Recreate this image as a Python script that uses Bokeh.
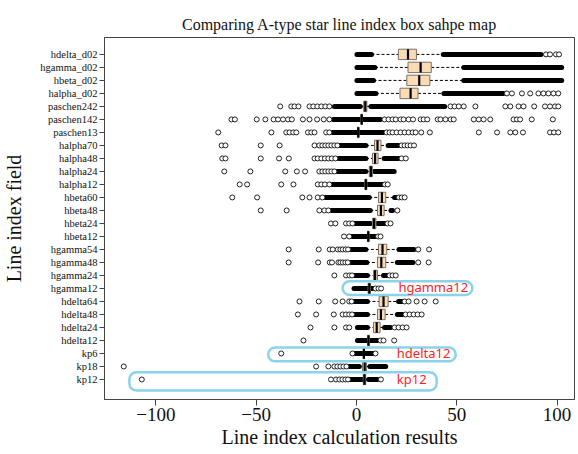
from bokeh.plotting import figure
from bokeh.models import ColumnDataSource, FixedTicker, Range1d
from bokeh.core.properties import value
from bokeh.embed import file_html
from bokeh.resources import INLINE

# ---------------- data (top row first) ----------------
labels = ["hdelta_d02", "hgamma_d02", "hbeta_d02", "halpha_d02", "paschen242", "paschen142",
          "paschen13", "halpha70", "halpha48", "halpha24", "halpha12", "hbeta60", "hbeta48",
          "hbeta24", "hbeta12", "hgamma54", "hgamma48", "hgamma24", "hgamma12", "hdelta64",
          "hdelta48", "hdelta24", "hdelta12", "kp6", "kp18", "kp12"]

q1 = [20.9, 25.7, 25.1, 21.7, 3.6, 2.2, 0.5, 9.0, 8.0, 6.4, 4.2, 11.0, 10.5,
      8.0, 5.5, 11.0, 10.5, 8.5, 5.8, 11.3, 10.5, 8.5, 5.6, 3.4, 3.0, 3.4]
median = [25.7, 32.0, 31.3, 27.0, 4.4, 2.6, 0.9, 10.5, 9.3, 7.2, 4.7, 12.7, 12.2,
          8.8, 5.9, 13.0, 12.4, 9.3, 6.4, 13.5, 12.2, 10.1, 6.0, 3.7, 4.1, 4.0]
q3 = [29.9, 37.3, 36.6, 30.7, 5.2, 3.0, 1.3, 12.2, 10.8, 8.0, 5.2, 14.6, 13.8,
      9.7, 6.3, 15.1, 14.6, 10.5, 7.0, 15.8, 14.3, 11.8, 6.4, 4.0, 5.0, 4.6]
whisker_lo = [7.5, 9.2, 8.5, 9.7, 1.9, 2.0, 0.5, 4.7, 4.7, 4.7, 4.2, 6.4, 6.9,
              7.0, 5.5, 4.7, 5.2, 5.5, 5.5, 5.5, 5.5, 5.5, 5.5, 3.2, 1.4, 3.1]
whisker_hi = [43.3, 53.5, 53.5, 43.6, 7.2, 3.2, 1.3, 15.8, 13.8, 8.8, 5.2, 19.0, 17.2,
              10.5, 6.3, 21.2, 20.4, 13.5, 7.0, 21.0, 20.4, 14.0, 6.8, 4.2, 6.7, 6.0]
# densely packed outliers (drawn as solid bands)
dense_lo_start = [0.25, 0.25, 0.25, 0.25, -11.0, -11.5, -12.0, -8.5, -9.0, -10.0, -12.5, -15.5, -12.5,
                  -1.0, -2.7, -3.0, -3.0, -1.2, -1.2, -1.2, -1.0, 0.5, 0.5, -1.2, -3.6, -3.6]
dense_hi_end = [92.0, 102.3, 102.3, 73.3, 44.0, 12.0, 13.5, 21.0, 21.2, 18.8, 13.0, 19.8, 18.0,
                14.6, 10.0, 28.7, 28.2, 15.5, 8.5, 23.0, 23.0, 17.0, 10.5, 8.5, 14.6, 10.5]
# isolated outliers
sparse_outliers = [
    [94.5, 96.5, 99.5, 101.0],
    [],
    [],
    [75.0, 77.5, 82.5, 86.6, 90.7, 93.2, 95.7, 98.2, 100.6],
    [-38.0, -32.5, -30.9, -28.9, -23.4, -21.5, -19.5, -17.5, -15.5, -13.5, 46.9, 48.9, 51.0,
     53.5, 59.3, 74.2, 76.7, 80.8, 83.3, 88.6, 94.0, 96.5, 99.0, 100.6],
    [-62.3, -60.6, -49.7, -45.4, -41.3, -39.1, -36.6, -34.1, -32.2, -26.7, -23.4, -19.6, -16.3,
     -13.5, 14.0, 16.0, 18.0, 19.6, 22.0, 23.5, 26.0, 28.2, 32.0, 33.5, 35.3, 40.5, 41.9, 44.4,
     47.0, 48.5, 58.5, 61.0, 63.4, 66.7, 78.3, 80.0, 81.6, 87.4, 97.9],
    [-68.9, -42.4, -35.0, -33.4, -31.5, -30.0, -24.2, -22.5, -20.9, -15.1, -13.5, 15.0, 16.5,
     18.0, 20.0, 22.0, 24.0, 26.0, 28.0, 29.5, 32.3, 36.6, 61.0, 70.1, 76.7, 79.2, 83.0, 96.5,
     98.5, 100.6],
    [-67.2, -65.3, -47.7, -38.3, -20.9, -18.5, -17.0, -15.5, -14.0, -12.5, -11.0, -9.5, 22.5,
     24.0, 25.5, 27.0, 28.7],
    [-66.9, -65.3, -47.7, -38.6, -33.7, -20.9, -19.3, -17.5, -15.7, -14.0, -12.3, -10.5, 22.5, 24.6],
    [-65.9, -52.9, -35.5, -29.7, -25.6, -18.5, -17.0, -15.5, -14.0, -12.5, -11.0],
    [-58.2, -54.5, -37.5, -31.4, -19.3, -17.5, -15.7, -13.5, 14.2, 15.6],
    [-61.9, -49.5, -27.0, -23.4, -19.3, -17.0, 21.2, 22.6, 24.0],
    [-47.7, -34.8, -18.5, -16.0, -14.0, 20.4],
    [-12.7, -10.5, -5.2, -3.6, -2.0, 15.5, 17.0],
    [-6.2, -3.6, 10.8, 12.0],
    [-33.8, -18.8, -13.3, -11.8, -9.3, -8.0, -6.8, -5.4, -4.2, 30.8, 36.2],
    [-33.8, -19.1, -13.3, -12.2, -9.0, -8.0, -6.8, -5.5, -4.3, 30.8, 36.0],
    [-11.0, -5.2, -3.5, -2.2, 16.5, 18.0, 19.6],
    [9.5, 11.0, 12.3],
    [-28.4, -18.8, -10.6, -6.9, -3.6, -2.4, 24.0, 26.0, 30.0, 34.0, 39.5],
    [-29.2, -20.1, -11.3, -6.9, -5.2, -3.6, -2.2, 24.5, 26.5, 28.5, 30.5, 32.5],
    [-22.9, -11.0, -5.2, -3.6, 19.0, 21.0, 23.0, 25.0],
    [-26.4, 12.0, 13.5, 18.8],
    [-37.5, -2.0, 9.5],
    [-116.0, -20.1, -14.0, -11.0, -9.5, -8.0, -6.5, -5.0],
    [-107.0, -12.7, -10.2, -8.5, -7.0, -5.5, -4.2, 12.2],
]

x_ticks = [-100, -50, 0, 50, 100]

# highlight annotations
ann_text = ["hgamma12", "hdelta12", "kp12"]
ann_left = [-6.9, -44.0, -113.2]
ann_right = [57.8, 49.5, 40.0]
ann_bottom = [6.5, 1.4, -0.85]
ann_top = [7.55, 2.45, 0.55]
ann_text_x = [20.9, 20.1, 20.1]
ann_text_y = [7.1, 2.0, 0.0]

# ---------------- build ----------------
n = len(labels)
ypos = [n - 1 - i for i in range(n)]

p = figure(width=578, height=454, output_backend="svg", toolbar_location=None,
           x_range=Range1d(-125.6, 108.7), y_range=Range1d(-1.54, 26.3),
           min_border_left=103, min_border_right=4, min_border_top=37, min_border_bottom=55,
           title="Comparing A-type star line index box sahpe map")
p.background_fill_color = "white"
p.border_fill_color = "white"
p.outline_line_color = "#444444"
p.outline_line_width = 1
p.grid.visible = False

serif = "Liberation Serif"
p.title.align = "center"
p.title.text_font = serif
p.title.text_font_size = "16px"
p.title.text_font_style = "normal"
p.title.text_color = "#111111"

p.xaxis.ticker = FixedTicker(ticks=x_ticks)
p.xaxis.axis_label = "Line index calculation results"
p.yaxis.axis_label = "Line index field"
p.yaxis.ticker = FixedTicker(ticks=ypos)
p.yaxis.major_label_overrides = {y: lab for y, lab in zip(ypos, labels)}
for ax in (p.xaxis[0], p.yaxis[0]):
    ax.axis_line_color = "#444444"
    ax.major_tick_line_color = "#444444"
    ax.minor_tick_line_color = None
    ax.major_tick_in = 0
    ax.major_label_text_font = serif
    ax.axis_label_text_font = serif
    ax.axis_label_text_font_style = "normal"
    ax.axis_label_text_font_size = "20px"
    ax.major_label_text_color = "#111111"
    ax.axis_label_text_color = "#111111"
p.xaxis.major_tick_out = 6
p.xaxis.major_label_text_font_size = "19px"
p.xaxis.major_label_standoff = 2
p.xaxis.axis_label_standoff = 2
p.yaxis.major_tick_out = 5
p.yaxis.major_label_text_font_size = "10.5px"
p.yaxis.major_label_standoff = 2
p.yaxis.axis_label_standoff = 12

# whiskers
wx0, wx1, wy = [], [], []
for i in range(n):
    wx0 += [whisker_lo[i], q3[i]]
    wx1 += [q1[i], whisker_hi[i]]
    wy += [ypos[i], ypos[i]]
p.segment(x0=wx0, y0=wy, x1=wx1, y1=wy, line_color="black", line_width=1, line_dash="3 2")

# dense outlier bands
dx0, dx1, dy = [], [], []
for i in range(n):
    dx0 += [dense_lo_start[i], whisker_hi[i]]
    dx1 += [whisker_lo[i], dense_hi_end[i]]
    dy += [ypos[i], ypos[i]]
p.segment(x0=dx0, y0=dy, x1=dx1, y1=dy, line_color="black", line_width=5, line_cap="round")

# isolated outliers
ox, oy = [], []
for i in range(n):
    ox += sparse_outliers[i]
    oy += [ypos[i]] * len(sparse_outliers[i])
p.scatter(x=ox, y=oy, marker="circle", size=5, fill_color="white", line_color="#222222", line_width=1)

# boxes and medians
box_src = ColumnDataSource(dict(y=ypos, left=q1, right=q3, med=median,
                                y0=[y - 0.4 for y in ypos], y1=[y + 0.4 for y in ypos]))
p.hbar(y="y", left="left", right="right", height=0.8, source=box_src,
       fill_color="#F9DCB4", line_color="#7D7265", line_width=1)
p.segment(x0="med", y0="y0", x1="med", y1="y1", source=box_src, line_color="black", line_width=2.2)

# highlight annotations
ann_src = ColumnDataSource(dict(left=ann_left, right=ann_right, bottom=ann_bottom, top=ann_top,
                                tx=ann_text_x, ty=ann_text_y, text=ann_text))
p.quad(left="left", right="right", bottom="bottom", top="top", source=ann_src,
       fill_color=None, line_color="#8AD3EA", line_width=2.5, border_radius=7)
p.text(x="tx", y="ty", text="text", source=ann_src, text_color="#FF2222",
       text_font=value("Noto Sans"), text_font_size="13px", text_baseline="middle", text_align="left")

open("out.html", "w").write(file_html(p, INLINE))
